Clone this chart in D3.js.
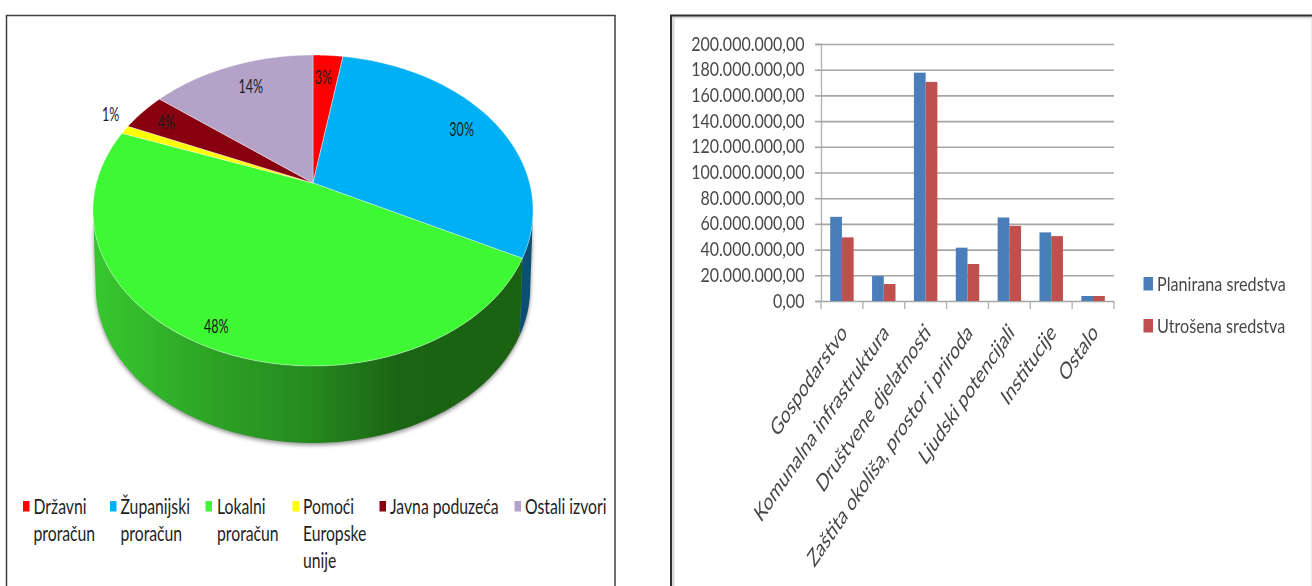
<!DOCTYPE html>
<html><head><meta charset="utf-8">
<script src="https://cdn.jsdelivr.net/npm/d3@7/dist/d3.min.js"></script>
<style>
html,body{margin:0;padding:0;background:#fff;overflow:hidden}
svg{display:block;filter:blur(.55px)}
text{font-family:Lato,"Open Sans",sans-serif}
</style></head><body>
<svg id="c" width="1312" height="586"></svg>
<script>
// ---------- data ----------
const sources = ["Državni proračun","Županijski proračun","Lokalni proračun","Pomoći Europske unije","Javna poduzeća","Ostali izvori"];
const sourceShares = [2.6,30.0,48.1,0.9,4.0,14.4];
const sourceLegendLines = [["Državni","proračun"],["Županijski","proračun"],["Lokalni","proračun"],["Pomoći","Europske","unije"],["Javna poduzeća"],["Ostali izvori"]];
const categories = ["Gospodarstvo","Komunalna infrastruktura","Društvene djelatnosti","Zaštita okoliša, prostor  i priroda","Ljudski potencijali","Institucije","Ostalo"];
const planned = [65.5e6,19.4e6,177.7e6,41.5e6,65e6,53.4e6,3.9e6];
const spent = [49.5e6,13.2e6,170.5e6,28.8e6,58.5e6,50.5e6,3.9e6];
const seriesNames = ["Planirana sredstva","Utrošena sredstva"];
const yTicks = [0,20e6,40e6,60e6,80e6,100e6,120e6,140e6,160e6,180e6,200e6];

// ---------- styles / layout ----------
const sliceColors = ["#ff0000","#00b0f5","#3df832","#ffff00","#880010","#b5a2c8"];
const seriesColors = ["#4a7ebb","#c0504d"];
const labelNudge = [[-2,0],[3,-3],[-16,17],[-50,-25],[-8,-3],[5,0]];
const legendX = [23,110,205.5,292.5,379.5,514.5];

const svg = d3.select("#c");
const defs = svg.append("defs");

// panels
svg.append("rect").attr("x",6.5).attr("y",15.5).attr("width",608.5).attr("height",600).attr("fill","#fff").attr("stroke","#404040").attr("stroke-width",1.5);
svg.append("rect").attr("x",673).attr("y",17).attr("width",640).attr("height",600).attr("fill","none").attr("stroke","#d8d8d8").attr("stroke-width",3);
svg.append("rect").attr("x",671).attr("y",15.5).attr("width",650).attr("height",600).attr("fill","none").attr("stroke","#303030").attr("stroke-width",2);

// ---------- 3D pie ----------
const cx=313, cy=183, K=0.177, B=150.6, A=216.6, depth=77, shrink=0.987;
function proj(t,r=1,lower=false){
  const u=r*Math.sin(t), v=r*Math.cos(t), d=1+K*v;
  return lower ? [cx+A*shrink*u/d, cy-B*v/d+depth] : [cx+A*u/d, cy-B*v/d];
}
const arcs = d3.pie().sort(null).value(d=>d)(sourceShares);
const samples=(a,b)=>d3.range(0,61).map(i=>a+(b-a)*i/60);
const line=d3.line();

const tan=Math.acos(-K);               // angle where the rim silhouette starts
const sidePath=(a,b)=>{
  const s=samples(a,b);
  return line(s.map(t=>proj(t)).concat(s.slice().reverse().map(t=>proj(t,1,true))))+"Z";
};
const gGreen=defs.append("linearGradient").attr("id","sideGreen").attr("gradientUnits","userSpaceOnUse").attr("x1",93).attr("x2",533).attr("y1",0).attr("y2",0);
[[0,"#36c82e"],[.25,"#2ea626"],[.5,"#25881e"],[.7,"#1a6413"],[1,"#1a6212"]].forEach(s=>gGreen.append("stop").attr("offset",s[0]).attr("stop-color",s[1]));
defs.append("filter").attr("id","soft").attr("x","-10%").attr("y","-10%").attr("width","120%").attr("height","120%").append("feGaussianBlur").attr("stdDeviation",2);

const pie=svg.append("g");
const a1=arcs[1], a2=arcs[2];
const rimEnd=2*Math.PI-tan;
pie.append("path").attr("d",sidePath(tan,rimEnd)).attr("fill","#8a8a8a").attr("transform","translate(0,2)").attr("filter","url(#soft)");
pie.append("path").attr("d",sidePath(tan,a1.endAngle)).attr("fill","#0b4f73");
pie.append("path").attr("d",sidePath(a2.startAngle,rimEnd)).attr("fill","url(#sideGreen)");
pie.selectAll("path.top").data(arcs).join("path").attr("class","top")
  .attr("d",d=>line([proj(0,0)].concat(samples(d.startAngle,d.endAngle).map(t=>proj(t))))+"Z")
  .attr("fill",(d,i)=>sliceColors[i]).attr("stroke","#fff").attr("stroke-opacity",.55).attr("stroke-width",.7);

pie.selectAll("text.lab").data(arcs).join("text").attr("class","lab")
  .attr("transform",(d,i)=>{
    const p=proj((d.startAngle+d.endAngle)/2,.8);
    return `translate(${p[0]+labelNudge[i][0]},${p[1]+labelNudge[i][1]+6.5}) scale(.66,1)`;
  })
  .attr("text-anchor","middle").attr("font-size",19).attr("fill","#1c1c1c")
  .text(d=>Math.round(d.data)+"%");

// pie legend
const leg=svg.append("g").selectAll("g").data(sources).join("g").attr("transform",(d,i)=>`translate(${legendX[i]},501)`);
leg.append("rect").attr("width",6.5).attr("height",10.5).attr("fill",(d,i)=>sliceColors[i]);
leg.each(function(d,i){
  d3.select(this).selectAll("text").data(sourceLegendLines[i]).join("text")
    .attr("transform",(l,j)=>`translate(${i===2?11.5:10.5},${12.5+j*27}) scale(.75,1)`)
    .attr("font-size",21).attr("fill","#1e1e1e").text(l=>l);
});

// ---------- bars ----------
const x=d3.scaleBand().domain(categories).range([821,1114]).paddingInner(.44).paddingOuter(.22);
const y=d3.scaleLinear().domain([0,200e6]).range([301,44]);
const fmt=d3.formatLocale({decimal:",",thousands:".",grouping:[3],currency:["",""]}).format(",.2f");
const chart=svg.append("g");

const yAxis=chart.append("g").attr("transform","translate(821,0)")
  .call(d3.axisLeft(y).tickValues(yTicks).tickFormat(fmt).tickSize(6));
yAxis.select(".domain").attr("stroke","#b4b4b4").attr("stroke-width",1.4);
yAxis.selectAll(".tick line").attr("stroke","#a6a6a6").attr("stroke-width",1.6);
yAxis.selectAll(".tick").append("line").attr("x1",0).attr("x2",293).attr("stroke","#a6a6a6").attr("stroke-width",1.6);
yAxis.selectAll(".tick text").attr("x",0).attr("dy",null).attr("y",6)
  .attr("transform","translate(-16.5,0) scale(.8,1)").attr("text-anchor","end")
  .attr("font-size",20).attr("fill","#484848");

const bw=x.bandwidth()/2;
const barData=categories.map((c,i)=>({c,vals:[planned[i],spent[i]]}));
chart.selectAll("g.cat").data(barData).join("g").attr("class","cat")
  .selectAll("rect").data(d=>d.vals.map((v,s)=>({c:d.c,v,s}))).join("rect")
  .attr("x",d=>x(d.c)+d.s*bw).attr("width",bw)
  .attr("y",d=>y(d.v)).attr("height",d=>y(0)-y(d.v))
  .attr("fill",d=>seriesColors[d.s]);

// category separators (ticks on band edges)
const edges=d3.range(categories.length+1).map(i=>x.range()[0]+i*x.step());
chart.selectAll("line.sep").data(edges).join("line").attr("class","sep")
  .attr("x1",d=>d).attr("x2",d=>d).attr("y1",301).attr("y2",309)
  .attr("stroke","#b4b4b4").attr("stroke-width",1.4);

const xAxis=chart.append("g").attr("transform","translate(0,301)")
  .call(d3.axisBottom(x).tickSize(0));
xAxis.select(".domain").remove();
xAxis.selectAll(".tick text").attr("x",0).attr("y",0).attr("dy",null)
  .attr("transform","translate(6,33) scale(.68,1) rotate(-45)").attr("text-anchor","end")
  .attr("font-size",24).attr("fill","#484848");

// series legend
const sl=chart.selectAll("g.sl").data(seriesNames).join("g").attr("class","sl")
  .attr("transform",(d,i)=>`translate(1143.5,${[277,319][i]})`);
sl.append("rect").attr("width",9.5).attr("height",13.5).attr("fill",(d,i)=>seriesColors[i]);
sl.append("text").attr("transform","translate(13.5,14) scale(.81,1)").attr("font-size",20).attr("fill","#484848").text(d=>d);
</script>
</body></html>
